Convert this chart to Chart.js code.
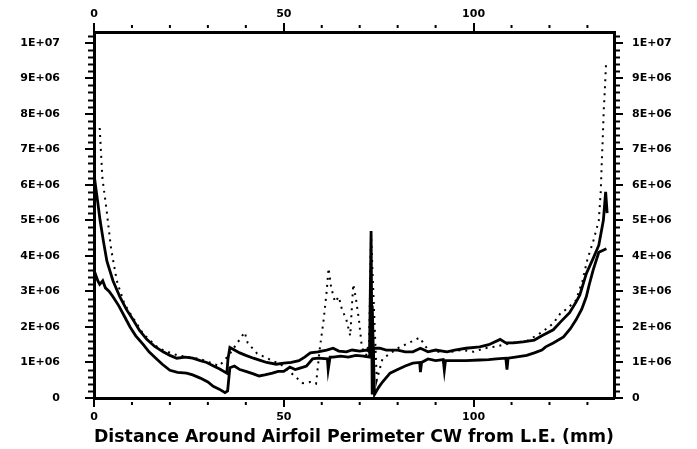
<!DOCTYPE html>
<html>
<head>
<meta charset="utf-8">
<script src="https://cdn.jsdelivr.net/npm/chart.js@4"></script>
<style>
  body { margin: 0; background: #fff; }
</style>
</head>
<body>
<canvas id="myChart" width="697" height="449"></canvas>
<script>
// Dataset (x in mm, values in millions)
const upperX = [0, 0.5, 1, 1.6, 2.5, 3.4, 5, 6.8, 8.5, 10.3, 12, 13.9, 16, 18.2, 20, 21.8, 24, 26, 28, 29.7,
  31.5, 33, 35, 35.3, 35.8, 37, 38.4, 40, 42, 44, 45.5, 48, 50, 52, 54, 55.5, 57, 59, 61.3, 63,
  64.5, 66.5, 68, 70, 72, 72.6, 73, 73.3, 73.7, 75.3, 77, 80, 82, 84, 86, 88, 90, 93, 95, 98,
  101.6, 104, 107, 108.5, 110.5, 113, 116, 118, 121, 123, 125.3, 127, 128, 129.7, 131.6, 133, 134.2, 134.8, 135.2];
const upperY = [6.3, 5.9, 5.5, 5.0, 4.4, 3.85, 3.3, 2.85, 2.5, 2.2, 1.9, 1.65, 1.45, 1.3, 1.2, 1.12, 1.15, 1.12, 1.05, 1.0,
  0.9, 0.82, 0.7, 1.1, 1.42, 1.35, 1.27, 1.2, 1.12, 1.05, 1.0, 0.95, 0.98, 1.0, 1.05, 1.15, 1.27, 1.3, 1.35, 1.4,
  1.32, 1.3, 1.35, 1.32, 1.35, 1.3, 4.7, 0.1, 1.4, 1.4, 1.35, 1.35, 1.3, 1.3, 1.4, 1.3, 1.35, 1.3, 1.35, 1.4,
  1.44, 1.5, 1.65, 1.55, 1.55, 1.58, 1.63, 1.75, 1.92, 2.15, 2.4, 2.7, 2.9, 3.5, 3.95, 4.3, 5.0, 5.8, 5.2];

const lowerX = [0, 0.5, 1, 1.5, 2.3, 3, 4, 5, 6.5, 8, 9.5, 11, 13, 14.5, 16.5, 18, 20, 22, 24.4, 26,
  28, 30, 31.4, 33, 34.5, 35.2, 35.8, 37, 38.4, 40, 42, 43.5, 45, 47, 48.5, 50, 51.6, 53, 54.5, 56,
  57.6, 59, 61.5, 61.7, 62.2, 63, 65, 67, 69, 71, 72.6, 73.3, 73.9, 75, 76, 78, 80, 82, 84, 85.8,
  86, 86.3, 88, 90, 92, 92.3, 92.6, 95, 98, 101.6, 104, 106, 108.5, 108.8, 109.1, 111, 114, 116, 118, 119,
  121, 123.7, 125.5, 127, 128.5, 129.7, 130.5, 131.5, 133, 135];
const lowerY = [3.6, 3.45, 3.3, 3.2, 3.3, 3.1, 3.0, 2.85, 2.6, 2.3, 2.0, 1.75, 1.5, 1.3, 1.1, 0.95, 0.78, 0.72, 0.7, 0.65,
  0.56, 0.45, 0.33, 0.25, 0.15, 0.2, 0.85, 0.9, 0.8, 0.75, 0.68, 0.62, 0.65, 0.7, 0.75, 0.75, 0.87, 0.8, 0.85, 0.9,
  1.1, 1.12, 1.1, 0.8, 1.15, 1.15, 1.18, 1.15, 1.2, 1.18, 1.15, 2.6, 0.1, 0.3, 0.45, 0.7, 0.8, 0.9, 0.98, 1.0,
  0.73, 1.0, 1.1, 1.05, 1.08, 0.78, 1.05, 1.05, 1.05, 1.07, 1.08, 1.1, 1.12, 0.8, 1.12, 1.15, 1.2, 1.27, 1.35, 1.44,
  1.55, 1.72, 1.95, 2.2, 2.5, 2.85, 3.2, 3.6, 4.1, 4.2];

const dottedX = [1.5, 2.2, 3.3, 4.5, 6, 8, 10, 13, 17, 22, 28, 33, 35.5, 39.7, 40.5, 43, 47, 50, 53, 55,
  57, 58.5, 59.5, 60.5, 61.3, 61.8, 62.5, 63.5, 64.5, 65.3, 66.5, 67.5, 68.3, 69, 69.8, 70.5, 71.5, 72.5, 73, 74.5,
  76, 78, 80, 82, 85.8, 88, 90, 94, 97, 100, 103, 106, 110, 114, 118, 121, 123, 124.5, 127, 128.7,
  130, 131.5, 132.5, 133, 133.5, 133.8, 134, 134.3, 134.6, 134.9];
const dottedY = [7.6, 6.2, 5.3, 4.2, 3.3, 2.65, 2.3, 1.8, 1.4, 1.2, 1.1, 0.9, 1.2, 1.85, 1.55, 1.25, 1.05, 0.9, 0.6, 0.42,
  0.45, 0.4, 1.4, 2.2, 3.0, 3.65, 3.1, 2.7, 2.85, 2.5, 2.2, 1.75, 3.2, 2.8, 2.2, 1.5, 1.1, 1.6, 4.6, 0.5,
  1.1, 1.25, 1.4, 1.5, 1.7, 1.35, 1.3, 1.3, 1.35, 1.3, 1.4, 1.45, 1.55, 1.6, 1.85, 2.1, 2.4, 2.5, 2.75, 3.3,
  3.9, 4.4, 4.8, 5.0, 5.8, 6.7, 7.2, 8.1, 8.7, 9.4];

const xTickValues = [0, 50, 100];
const yTickValues = [0, 1, 2, 3, 4, 5, 6, 7, 8, 9, 10];

const toPoints = (xs, ys) => xs.map((x, i) => ({ x: x, y: ys[i] * 1e6 }));

const data = {
  datasets: [
    { data: toPoints(upperX, upperY), borderColor: "#000", borderWidth: 2.8 },
    { data: toPoints(lowerX, lowerY), borderColor: "#000", borderWidth: 2.8 },
    { data: toPoints(dottedX, dottedY), borderColor: "#000", borderWidth: 2, borderDash: [2, 5] },
  ],
};

Chart.defaults.font.family = "'DejaVu Sans', sans-serif";
Chart.defaults.font.weight = "bold";
Chart.defaults.color = "#000";

const yLabel = (v) => (v === 0 ? "0" : v === 1e7 ? "1E+07" : v / 1e6 + "E+06");

// Style Configurations
const axisGrid = { drawOnChartArea: false, color: "#000", lineWidth: 2, tickLength: 9 };
const axisBorder = { display: true, color: "#000", width: 3 };

function yAxis(position, width, pad) {
  return {
    type: "linear",
    position: position,
    min: 0,
    max: 10.3e6,
    grid: axisGrid,
    border: axisBorder,
    ticks: { font: { size: 11 }, padding: pad, callback: yLabel },
    afterBuildTicks: (s) => { s.ticks = yTickValues.map((v) => ({ value: v * 1e6 })); },
    afterFit: (s) => { s.width = width; },
  };
}

function xAxis(position, height, pad, title) {
  return {
    type: "linear",
    position: position,
    min: 0,
    max: 137,
    grid: axisGrid,
    border: axisBorder,
    ticks: { font: { size: 11 }, padding: pad, maxRotation: 0 },
    title: title,
    afterBuildTicks: (s) => { s.ticks = xTickValues.map((v) => ({ value: v })); },
    afterFit: (s) => { s.height = height; },
  };
}

// small minor tick marks along every axis
const minorTicks = {
  id: "minorTicks",
  afterDraw(chart) {
    const ctx = chart.ctx;
    const a = chart.chartArea;
    ctx.save();
    ctx.strokeStyle = "#000";
    ctx.lineWidth = 2;
    ["y", "y2"].forEach((id) => {
      const s = chart.scales[id];
      for (let v = 2e5; v < 10.3e6; v += 2e5) {
        if (Math.abs(v / 1e6 - Math.round(v / 1e6)) < 1e-6) continue;
        const py = Math.round(s.getPixelForValue(v)) + 0.5;
        ctx.beginPath();
        if (id === "y") { ctx.moveTo(a.left - 6, py); ctx.lineTo(a.left, py); }
        else { ctx.moveTo(a.right, py); ctx.lineTo(a.right + 6, py); }
        ctx.stroke();
      }
    });
    const sx = chart.scales.x;
    for (let v = 10; v < 137; v += 10) {
      if (v % 50 === 0) continue;
      const px = sx.getPixelForValue(v);
      ctx.fillStyle = "#000";
      ctx.fillRect(px - 1, a.bottom + 4, 2, 3);
      ctx.fillRect(px - 1, a.top - 7, 2, 3);
    }
    ctx.restore();
  },
};

const config = {
  type: "line",
  data: data,
  options: {
    responsive: false,
    animation: false,
    layout: { padding: 0 },
    elements: { point: { radius: 0 }, line: { tension: 0 } },
    plugins: { legend: { display: false }, tooltip: { enabled: false } },
    scales: {
      x: xAxis("bottom", 51, 4, {
        display: true,
        text: "Distance Around Airfoil Perimeter CW from L.E. (mm)",
        font: { size: 18, weight: "bold" },
        padding: { top: 0, bottom: 1 },
      }),
      x2: xAxis("top", 32, 2, { display: false }),
      y: yAxis("left", 94, 25),
      y2: yAxis("right", 83, 9),
    },
  },
  plugins: [minorTicks],
};

// Plotting
let myChart = document.getElementById("myChart").getContext("2d");
let airfoilChart = new Chart(myChart, config);
</script>
</body>
</html>
